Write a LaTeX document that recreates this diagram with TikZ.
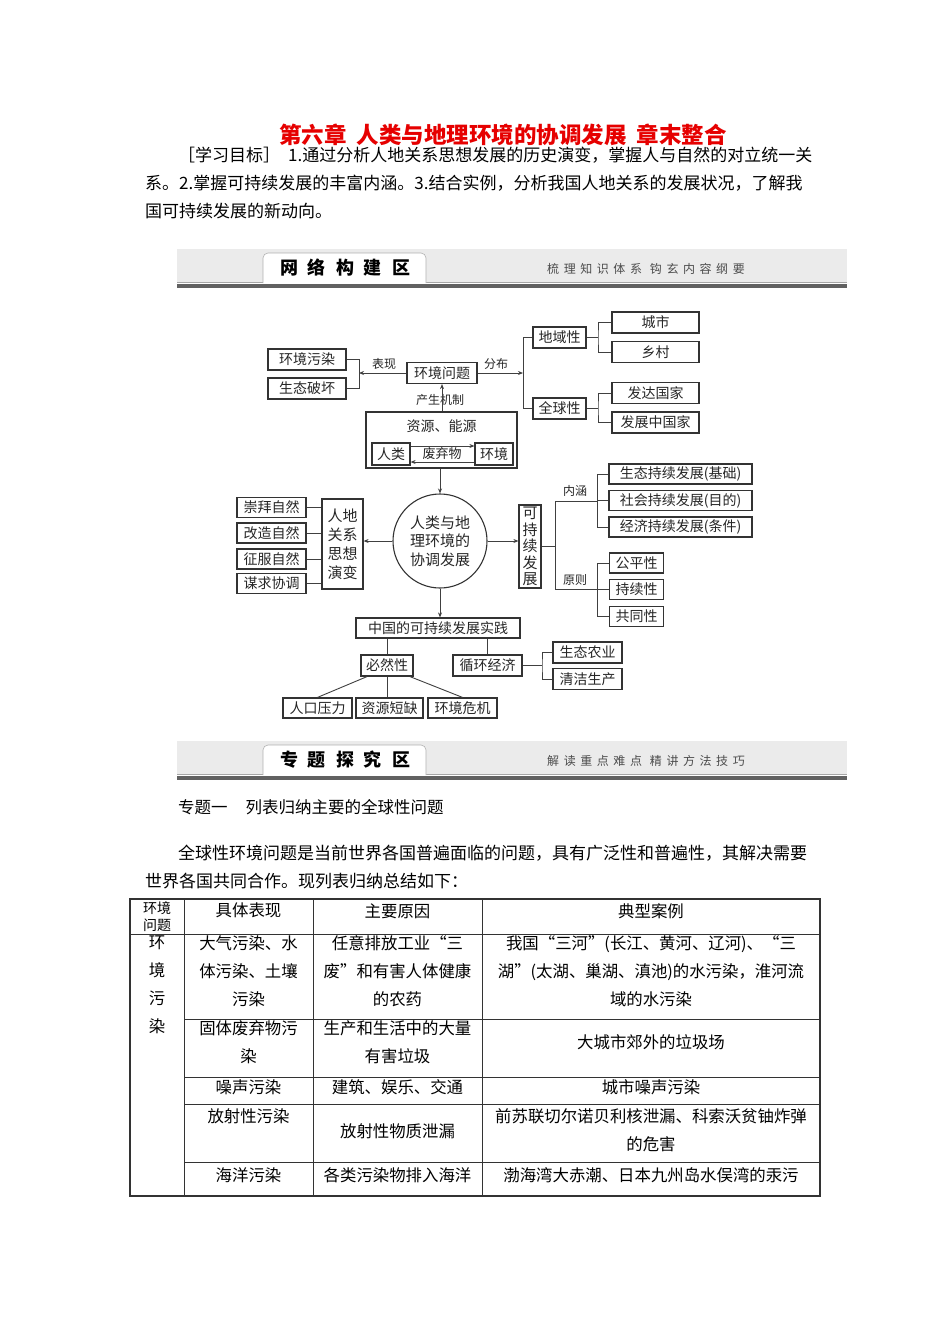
\documentclass[tikz,border=0pt]{standalone}
\usepackage{fontspec}
\setmainfont{Noto Sans CJK SC}
\newfontfamily\spaced{Noto Sans CJK SC}[LetterSpace=38]
\usetikzlibrary{arrows.meta,calc}
\definecolor{titlered}{RGB}{230,0,0}
\newcommand\fsz[2]{\fontsize{#1}{#2}\selectfont}
\XeTeXlinebreaklocale "zh"
\XeTeXlinebreakskip=0pt plus 3pt
\newcommand\mybanner[3]{%
  \fill[black!8] (177,#1) rectangle (847,{#1+34});
  \draw[black!35,line width=0.6pt] (177,{#1+33.5}) -- (263,{#1+33.5}) (426,{#1+33.5}) -- (847,{#1+33.5});
  \draw[black!30,line width=0.6pt,fill=white,rounded corners=5pt] (263,{#1+34}) -- (263,{#1+4}) -- (426,{#1+4}) -- (426,{#1+34});
  \fill[black!62] (177,{#1+35}) rectangle (847,{#1+39});
  \node[font=\bfseries\fsz{18}{18},inner sep=0pt] (bt#1) at (345,{#1+19}) {#2};
  \node[font=\spaced\fsz{12}{12},text=black!70,inner sep=0pt] (bs#1) at (646,{#1+20}) {#3};
}
\begin{document}
\begin{tikzpicture}[x=1pt,y=-1pt,
  bx/.style={draw=black!80,line width=1.2pt,inner sep=0pt,minimum height=21pt,font=\fsz{14}{16},fill=white,text=black!85},
  ln/.style={draw=black!75,line width=0.9pt},
  ar/.style={ln,-{Stealth[length=5pt,width=4pt]}},
  lab/.style={font=\fsz{12}{12},inner sep=1pt,text=black!85},
  body/.style={anchor=west,inner sep=0pt,font=\fsz{17}{17}},
  cell/.style={inner sep=0pt,align=center,font=\fsz{16.4}{28}},
  tl/.style={draw=black!80,line width=0.9pt}]
\useasboundingbox (0,0) rectangle (950,1344);
\fill[white] (0,0) rectangle (950,1344);

% ---------- title and aims ----------
\node[font=\bfseries\fsz{22.5}{22.5},text=titlered,inner sep=0pt] (title) at (503,135)
  {第六章\hspace{10pt}人类与地理环境的协调发展\hspace{10pt}章末整合};
\node[body] (aim1) at (178,155) {\makebox[627pt][s]{［学习目标］\hspace{8pt}1.通过分析人地关系思想发展的历史演变，掌握人与自然的对立统一关}};
\node[body] (aim2) at (145,183) {\makebox[660pt][s]{系。2.掌握可持续发展的丰富内涵。3.结合实例，分析我国人地关系的发展状况，了解我}};
\node[body] (aim3) at (145,211) {国可持续发展的新动向。};

% ---------- banner 1 ----------
\mybanner{249}{网\hspace{10pt}络\hspace{10pt}构\hspace{10pt}建\hspace{10pt}区}{梳理知识体系\hspace{8pt}钩玄内容纲要}

% ---------- diagram ----------
\node[bx,minimum width=78pt] (hjwr) at (307,359.5) {环境污染};
\node[bx,minimum width=78pt] (stpr) at (307,388.5) {生态破坏};
\node[bx,minimum width=70pt] (hjwt) at (442,373) {环境问题};
\coordinate (bl) at (359,373);
\draw[ln] (hjwr.east) -- (hjwr.east -| bl) -- (stpr.east -| bl) -- (stpr.east);
\draw[ar] (hjwt.west) -- (bl);
\node[lab] (l1) at (384,364) {表现};
\coordinate (br) at (523,373);
\draw[ar] (hjwt.east) -- (br);
\node[lab] (l2) at (496,364) {分布};

\node[bx,minimum width=53pt] (dyx) at (559.5,337.5) {地域性};
\node[bx,minimum width=53pt] (qqx) at (559.5,408.5) {全球性};
\draw[ln] (dyx.west) -- (dyx.west -| br) -- (qqx.west -| br) -- (qqx.west);
\node[bx,minimum width=87pt] (cs) at (655.5,322.5) {城市};
\node[bx,minimum width=87pt] (xc) at (655.5,352) {乡村};
\node[bx,minimum width=87pt] (fd) at (655.5,393) {发达国家};
\node[bx,minimum width=87pt] (fz) at (655.5,422.5) {发展中国家};
\coordinate (b1) at (598,337.5);
\coordinate (b2) at (598,408.5);
\draw[ln] (dyx.east) -- (b1);
\draw[ln] (cs.west) -| (b1) |- (xc.west);
\draw[ln] (qqx.east) -- (b2);
\draw[ln] (fd.west) -| (b2) |- (fz.west);

\node[bx,minimum width=151pt,minimum height=56pt] (zy) at (441.5,440) {};
\node[inner sep=0pt,font=\fsz{14}{16},text=black!85] (zyt) at (441.5,426) {资源、能源};
\node[bx,minimum width=38pt,minimum height=22pt] (rl) at (391,454) {人类};
\node[bx,minimum width=38pt,minimum height=22pt] (hj) at (494,454) {环境};
\draw[ar] ([yshift=8pt]rl.east) -- ([yshift=8pt]hj.west);
\draw[ar] ([yshift=-8pt]hj.west) -- ([yshift=-8pt]rl.east);
\node[lab,font=\fsz{13}{13}] (fqw) at (442,454) {废弃物};
\node[lab] (l3) at (440,400) {产生机制};
\draw[ar] (zy.north -| hjwt.south) -- (hjwt.south);

\node[draw=black!80,line width=1.1pt,circle,minimum size=94pt,inner sep=0pt,align=center,
  font=\fsz{15}{18.5},text=black!85] (yx) at (440,541) {人类与地\\理环境的\\协调发展};
\draw[ar] (yx.north |- zy.south) -- (yx.north);

\node[bx,minimum width=41pt,minimum height=90pt,align=center,font=\fsz{15}{19}] (rd) at (342.5,544) {人地\\关系\\思想\\演变};
\draw[ar] (yx.west) -- (yx.west -| rd.east);
\node[bx,minimum width=69pt,minimum height=20pt] (cb) at (271.5,507.5) {崇拜自然};
\node[bx,minimum width=69pt,minimum height=20pt] (gz) at (271.5,533) {改造自然};
\node[bx,minimum width=69pt,minimum height=20pt] (zf) at (271.5,559) {征服自然};
\node[bx,minimum width=69pt,minimum height=20pt] (mq) at (271.5,583.5) {谋求协调};
\foreach \n in {cb,gz,zf,mq} \draw[ln] (\n.east) -- (\n.east -| rd.west);

\node[bx,minimum width=22pt,minimum height=83pt,align=center,font=\fsz{15}{16.5}] (kcx) at (530,546.5) {可\\持\\续\\发\\展};
\draw[ar] (yx.east) -- (yx.east -| kcx.west);
\coordinate (nh) at (555,501);
\coordinate (yz) at (555,589);
\coordinate (nh2) at (597,501);
\coordinate (yz2) at (597,589);
\draw[ln] (kcx.east) -- (kcx.east -| nh);
\draw[ln] (nh2) -- (nh) -- (yz) -- (yz2);
\node[lab] (l4) at (575,491) {内涵};
\node[lab] (l5) at (575,580) {原则};
\node[bx,minimum width=143pt,minimum height=20pt] (st) at (680.5,474) {生态持续发展(基础)};
\node[bx,minimum width=143pt,minimum height=20pt] (sh) at (680.5,500.5) {社会持续发展(目的)};
\node[bx,minimum width=143pt,minimum height=20pt] (jj) at (680.5,527) {经济持续发展(条件)};
\draw[ln] (st.west) -| (nh2);
\draw[ln] (jj.west) -| (nh2);
\draw[ln] (sh.west) -- (sh.west -| nh2);
\node[bx,minimum width=54pt,minimum height=20pt] (gp) at (636.5,563) {公平性};
\node[bx,minimum width=54pt,minimum height=20pt] (cx) at (636.5,589.5) {持续性};
\node[bx,minimum width=54pt,minimum height=20pt] (gt) at (636.5,616.5) {共同性};
\draw[ln] (gp.west) -| (yz2);
\draw[ln] (gt.west) -| (yz2);
\draw[ln] (cx.west) -- (cx.west -| yz2);

\node[bx,minimum width=164pt,minimum height=20pt] (zg) at (438,628) {中国的可持续发展实践};
\draw[ar] (yx.south) -- (yx.south |- zg.north);
\node[bx,minimum width=52pt] (brx) at (387,665.5) {必然性};
\node[bx,minimum width=69pt] (xh) at (487.5,665.5) {循环经济};
\draw[ln] (brx.north |- zg.south) -- (brx.north);
\draw[ln] (xh.north |- zg.south) -- (xh.north);
\node[bx,minimum width=69pt] (stny) at (587.5,652.5) {生态农业};
\node[bx,minimum width=69pt] (qj) at (587.5,679) {清洁生产};
\coordinate (b3) at (542,665.5);
\draw[ln] (xh.east) -- (b3);
\draw[ln] (stny.west) -| (b3) |- (qj.west);
\node[bx,minimum width=69pt,minimum height=20pt] (rk) at (317.5,708) {人口压力};
\node[bx,minimum width=67pt,minimum height=20pt] (zd) at (389.5,708) {资源短缺};
\node[bx,minimum width=69pt,minimum height=20pt] (hw) at (462.5,708) {环境危机};
\draw[ln] ($(brx.south)+(-20,0)$) -- (rk.north);
\draw[ln] (brx.south) -- (brx.south |- zd.north);
\draw[ln] ($(brx.south)+(23,0)$) -- (hw.north);

% ---------- banner 2 ----------
\mybanner{741}{专\hspace{10pt}题\hspace{10pt}探\hspace{10pt}究\hspace{10pt}区}{解读重点难点\hspace{8pt}精讲方法技巧}

% ---------- text ----------
\node[body,font=\fsz{16.5}{16.5}] (zt) at (178,807) {专题一\hspace{18pt}列表归纳主要的全球性问题};
\node[body] (p1) at (178,853) {\makebox[627pt][s]{全球性环境问题是当前世界各国普遍面临的问题，具有广泛性和普遍性，其解决需要}};
\node[body] (p2) at (145,881) {世界各国共同合作。现列表归纳总结如下：};

% ---------- table ----------
\draw[tl,line width=1.1pt] (130,899) rectangle (820,1196);
\draw[tl] (130,934) -- (820,934);
\draw[tl] (184,899) -- (184,1196);
\draw[tl] (313,899) -- (313,1196);
\draw[tl] (482,899) -- (482,1196);
\foreach \yy in {1019,1077,1104,1162} \draw[tl] (184,\yy) -- (820,\yy);

\node[cell,font=\fsz{14}{16.5}] (h1) at (157,916.5) {环境\\问题};
\node[cell] (h2) at (248.5,910) {具体表现};
\node[cell] (h3) at (397.5,911) {主要原因};
\node[cell] (h4) at (651,911) {典型案例};
\node[cell] (c1) at (157,985) {环\\境\\污\\染};

\node[cell] (r1a) at (248.5,971) {大气污染、水\\体污染、土壤\\污染};
\node[cell] (r1b) at (397.5,971) {任意排放工业“三\\废”和有害人体健康\\的农药};
\node[cell] (r1c) at (651,971) {我国“三河”(长江、黄河、辽河)、“三\\湖”(太湖、巢湖、滇池)的水污染，淮河流\\域的水污染};

\node[cell] (r2a) at (248.5,1042) {固体废弃物污\\染};
\node[cell] (r2b) at (397.5,1042) {生产和生活中的大量\\有害垃圾};
\node[cell] (r2c) at (651,1042) {大城市郊外的垃圾场};

\node[cell] (r3a) at (248.5,1087) {噪声污染};
\node[cell] (r3b) at (397.5,1087) {建筑、娱乐、交通};
\node[cell] (r3c) at (651,1087) {城市噪声污染};

\node[cell] (r4a) at (248.5,1116) {放射性污染};
\node[cell] (r4b) at (397.5,1131) {放射性物质泄漏};
\node[cell] (r4c) at (651,1130) {前苏联切尔诺贝利核泄漏、科索沃贫铀炸弹\\的危害};

\node[cell] (r5a) at (248.5,1175) {海洋污染};
\node[cell] (r5b) at (397.5,1175) {各类污染物排入海洋};
\node[cell] (r5c) at (651,1175) {渤海湾大赤潮、日本九州岛水俣湾的汞污};
\end{tikzpicture}
\end{document}
